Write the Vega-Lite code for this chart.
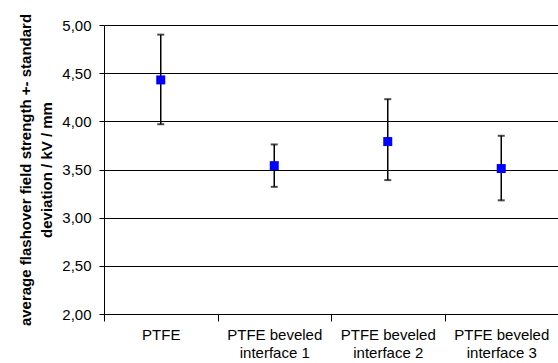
{
  "$schema": "https://vega.github.io/schema/vega-lite/v6.json",
  "width": 454,
  "height": 289,
  "autosize": {"type": "none"},
  "padding": {"left": 104, "top": 25, "right": 0, "bottom": 49},
  "background": "white",
  "config": {
    "font": "Liberation Sans",
    "view": {"stroke": null},
    "axis": {"labelFont": "Liberation Sans", "titleFont": "Liberation Sans", "labelColor": "#000", "titleColor": "#000", "domainColor": "#000", "tickColor": "#000"}
  },
  "data": {
    "values": [
      {"material": "PTFE", "mean": 4.43, "low": 3.97, "high": 4.90},
      {"material": "PTFE beveled interface 1", "mean": 3.54, "low": 3.32, "high": 3.76},
      {"material": "PTFE beveled interface 2", "mean": 3.79, "low": 3.39, "high": 4.23},
      {"material": "PTFE beveled interface 3", "mean": 3.51, "low": 3.18, "high": 3.85}
    ]
  },
  "encoding": {
    "x": {
      "field": "material",
      "type": "nominal",
      "sort": null,
      "scale": {"paddingInner": 0, "paddingOuter": 0},
      "axis": {
        "title": null,
        "labelAngle": 0,
        "labelFontSize": 15,
        "labelLineHeight": 18,
        "labelPadding": 6,
        "tickSize": 7,
        "tickWidth": 1,
        "tickBand": "extent",
        "domainColor": "#000",
        "labelExpr": "indexof(datum.label,' interface')>0 ? [substring(datum.label,0,indexof(datum.label,' interface')), substring(datum.label,indexof(datum.label,' interface')+1)] : datum.label"
      }
    }
  },
  "layer": [
    {
      "mark": {"type": "rule", "color": "#000", "strokeWidth": 1.5},
      "encoding": {
        "y": {
          "field": "low",
          "type": "quantitative",
          "scale": {"domain": [2, 5], "nice": false, "zero": false},
          "axis": {
            "title": ["average flashover field strength +- standard", "deviation / kV / mm"],
            "titleFontSize": 15,
            "titleFontWeight": "bold",
            "titleLineHeight": 21,
            "titlePadding": 7,
            "values": [2, 2.5, 3, 3.5, 4, 4.5, 5],
            "labelExpr": "replace(format(datum.value,'.2f'),'.',',')",
            "labelFontSize": 15,
            "labelPadding": 8,
            "tickSize": 5,
            "grid": true,
            "gridColor": "#000",
            "gridOpacity": 1,
            "gridWidth": 1
          }
        },
        "y2": {"field": "high"}
      }
    },
    {
      "mark": {"type": "tick", "color": "#000", "thickness": 2, "size": 7},
      "encoding": {"y": {"field": "low", "type": "quantitative"}}
    },
    {
      "mark": {"type": "tick", "color": "#000", "thickness": 2, "size": 7},
      "encoding": {"y": {"field": "high", "type": "quantitative"}}
    },
    {
      "mark": {"type": "square", "color": "#0000FF", "opacity": 1, "filled": true, "size": 81},
      "encoding": {"y": {"field": "mean", "type": "quantitative"}}
    }
  ]
}
